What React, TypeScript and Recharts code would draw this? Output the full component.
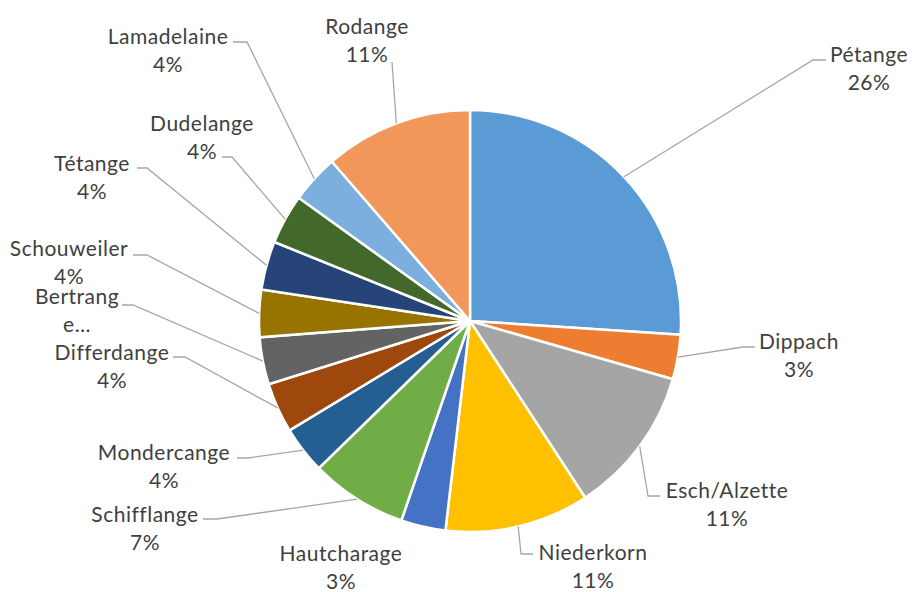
import React from 'react';
import { PieChart, Pie, Cell } from 'recharts';

const towns = [
  'Pétange', 'Dippach', 'Esch/Alzette', 'Niederkorn', 'Hautcharage', 'Schifflange',
  'Mondercange', 'Differdange', 'Bertrange', 'Schouweiler', 'Tétange', 'Dudelange',
  'Lamadelaine', 'Rodange',
];
const shares = [25.9, 3.4, 11.3, 11.0, 3.4, 7.4, 3.6, 3.8, 3.6, 3.6, 3.7, 3.8, 3.7, 11.3];
// text as shown in the picture (Bertrange is wrapped and cut off)
const shownNames: string[][] = [
  ['Pétange'], ['Dippach'], ['Esch/Alzette'], ['Niederkorn'], ['Hautcharage'], ['Schifflange'],
  ['Mondercange'], ['Differdange'], ['Bertrang', 'e…'], ['Schouweiler'], ['Tétange'], ['Dudelange'],
  ['Lamadelaine'], ['Rodange'],
];
const colors = [
  '#5B9BD5', '#ED7D31', '#A5A5A5', '#FFC000', '#4472C4', '#70AD47', '#255E91',
  '#9E480E', '#636363', '#997300', '#264478', '#43682B', '#7CAFDD', '#F1975A',
];

// label layout: text centre x, first line centre y, leader elbow/end points
const labelLayout: { tx: number; ty: number; pts: number[][] }[] = [
  { tx: 869, ty: 53, pts: [[813, 60], [826, 60]] },
  { tx: 799, ty: 340, pts: [[743, 347], [755, 347]] },
  { tx: 727, ty: 489, pts: [[648, 496], [660, 496]] },
  { tx: 593, ty: 551, pts: [[521, 554], [533, 554]] },
  { tx: 341, ty: 552, pts: [] },
  { tx: 145, ty: 513, pts: [[217, 519], [203, 519]] },
  { tx: 164, ty: 451, pts: [[248, 458], [237, 458]] },
  { tx: 112, ty: 351, pts: [[185, 357], [173, 357]] },
  { tx: 77, ty: 295, pts: [[133, 305], [122, 305]] },
  { tx: 69, ty: 247, pts: [[147, 255], [133, 255]] },
  { tx: 92, ty: 162, pts: [[147, 168], [137, 168]] },
  { tx: 202, ty: 122, pts: [[232, 157], [222, 157]] },
  { tx: 168, ty: 35, pts: [[247, 42], [233, 42]] },
  { tx: 367, ty: 25, pts: [[392, 62]] },
];

const data = towns.map((t, i) => ({ name: t, value: shares[i] }));

const RAD = Math.PI / 180;
const FONT = 'Lato, "Noto Sans", sans-serif';
const FS = 21;
const LH = 28.5;

const renderLabel = (props: any) => {
  const { cx, cy, midAngle, outerRadius, percent, index } = props;
  const lay = labelLayout[index];
  const sx = cx + outerRadius * Math.cos(-midAngle * RAD);
  const sy = cy + outerRadius * Math.sin(-midAngle * RAD);
  const lines = [...shownNames[index]];
  if (lines.length === 1) lines.push(`${Math.round(percent * 100)}%`);
  const ptsStr = [[sx, sy], ...lay.pts].map((p) => p.join(',')).join(' ');
  return (
    <g key={`lbl-${index}`}>
      {lay.pts.length > 0 && (
        <polyline points={ptsStr} fill="none" stroke="#A6A6A6" strokeWidth={1.3} />
      )}
      {lines.map((ln, k) => (
        <text
          key={k}
          x={lay.tx}
          y={lay.ty + k * LH}
          textAnchor="middle"
          dominantBaseline="central"
          fontFamily={FONT}
          fontSize={FS}
          letterSpacing={0.5}
          fill="#404040"
        >
          {ln}
        </text>
      ))}
    </g>
  );
};

export default function App() {
  return (
    <div style={{ position: 'absolute', left: 0, top: 0, width: 912, height: 592, background: '#fff' }}>
      <PieChart width={912} height={592} margin={{ top: 0, right: 0, bottom: 0, left: 0 }}>
        <Pie
          data={data}
          dataKey="value"
          nameKey="name"
          cx={470}
          cy={321}
          outerRadius={211}
          startAngle={90}
          endAngle={-270}
          stroke="#FFFFFF"
          strokeWidth={2.5}
          label={renderLabel}
          labelLine={false}
          isAnimationActive={false}
        >
          {data.map((d, i) => (
            <Cell key={d.name} fill={colors[i]} />
          ))}
        </Pie>
      </PieChart>
    </div>
  );
}
